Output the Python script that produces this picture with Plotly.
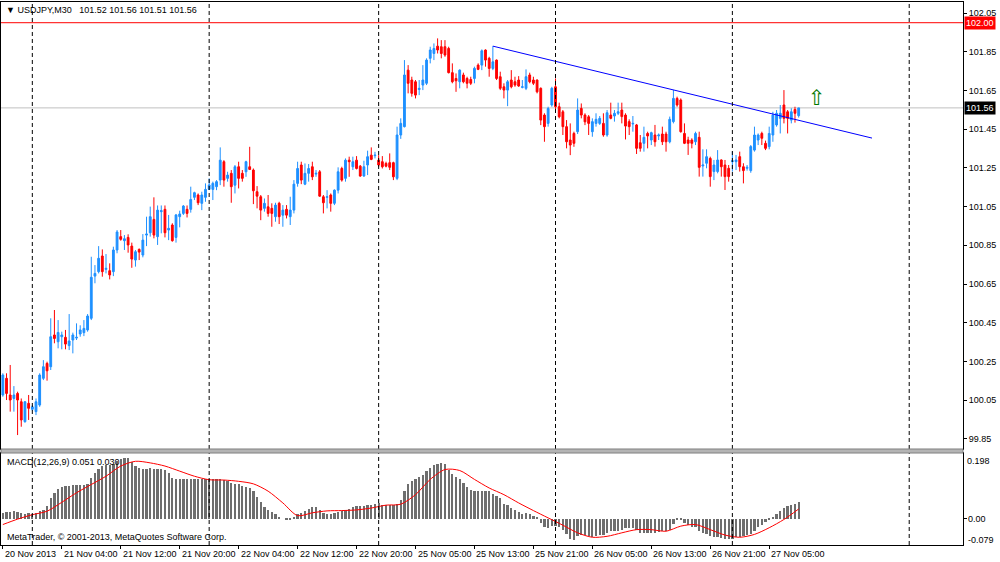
import plotly.graph_objects as go

# USDJPY M30 candles, 20 Nov 20:00 .. 27 Nov 09:00 (bar index on x)
opens = [100.077, 100.163, 100.077, 100.059, 100.085, 100.042, 99.939, 100.034, 100.003, 99.991,
         100.025, 100.163, 100.240, 100.223, 100.387, 100.352, 100.378, 100.375, 100.332, 100.361,
         100.371, 100.392, 100.399, 100.413, 100.473, 100.691, 100.714, 100.795, 100.726, 100.719,
         100.714, 100.826, 100.895, 100.874, 100.891, 100.846, 100.774, 100.829, 100.800, 100.903,
         100.915, 100.984, 100.895, 101.024, 101.036, 100.929, 100.955, 100.891, 100.998, 101.015,
         101.036, 101.036, 101.098, 101.110, 101.067, 101.098, 101.139, 101.139, 101.153, 101.187,
         101.282, 101.196, 101.222, 101.161, 101.256, 101.222, 101.230, 101.256, 101.239, 101.127,
         101.101, 101.041, 101.049, 101.041, 100.998, 101.067, 101.006, 101.036, 100.998, 101.032,
         101.170, 101.265, 101.166, 101.222, 101.256, 101.218, 101.230, 101.101, 101.098, 101.110,
         101.067, 101.135, 101.247, 101.196, 101.290, 101.256, 101.290, 101.259, 101.208, 101.265,
         101.316, 101.313, 101.290, 101.282, 101.273, 101.277, 101.277, 101.196, 101.420, 101.463,
         101.755, 101.704, 101.695, 101.655, 101.678, 101.687, 101.816, 101.841, 101.879, 101.876,
         101.876, 101.867, 101.742, 101.712, 101.695, 101.730, 101.712, 101.707, 101.712, 101.781,
         101.781, 101.859, 101.816, 101.764, 101.807, 101.721, 101.669, 101.652, 101.704, 101.695,
         101.704, 101.666, 101.661, 101.730, 101.704, 101.704, 101.661, 101.523, 101.480, 101.575,
         101.669, 101.566, 101.540, 101.463, 101.394, 101.428, 101.437, 101.557, 101.523, 101.514,
         101.437, 101.480, 101.480, 101.480, 101.420, 101.523, 101.518, 101.532, 101.549, 101.523,
         101.489, 101.477, 101.472, 101.380, 101.377, 101.428, 101.394, 101.420, 101.415, 101.425,
         101.425, 101.385, 101.489, 101.609, 101.601, 101.428, 101.394, 101.394, 101.385, 101.408,
         101.260, 101.274, 101.299, 101.231, 101.231, 101.291, 101.265, 101.248, 101.282, 101.282,
         101.308, 101.256, 101.248, 101.236, 101.342, 101.394, 101.428, 101.377, 101.360, 101.420,
         101.472, 101.506, 101.575, 101.540, 101.497, 101.552, 101.520]
highs = [100.189, 100.189, 100.232, 100.123, 100.094, 100.059, 100.046, 100.077, 100.025, 100.059,
         100.189, 100.257, 100.249, 100.473, 100.516, 100.464, 100.404, 100.413, 100.495, 100.399,
         100.447, 100.437, 100.464, 100.495, 100.791, 100.748, 100.846, 100.829, 100.805, 100.757,
         100.843, 100.929, 100.929, 100.903, 100.907, 100.864, 100.826, 100.834, 100.908, 100.998,
         101.050, 101.098, 101.056, 101.056, 101.056, 101.007, 100.964, 101.012, 101.029, 101.058,
         101.056, 101.153, 101.127, 101.118, 101.127, 101.170, 101.196, 101.179, 101.187, 101.356,
         101.290, 101.230, 101.239, 101.265, 101.282, 101.239, 101.287, 101.359, 101.247, 101.156,
         101.110, 101.092, 101.110, 101.067, 101.070, 101.075, 101.058, 101.058, 101.101, 101.187,
         101.282, 101.282, 101.273, 101.270, 101.282, 101.239, 101.239, 101.110, 101.135, 101.118,
         101.139, 101.253, 101.256, 101.299, 101.308, 101.308, 101.311, 101.265, 101.287, 101.339,
         101.356, 101.333, 101.316, 101.311, 101.282, 101.325, 101.282, 101.463, 101.506, 101.807,
         101.781, 101.721, 101.704, 101.704, 101.781, 101.816, 101.876, 101.893, 101.919, 101.910,
         101.910, 101.876, 101.790, 101.738, 101.759, 101.742, 101.721, 101.721, 101.773, 101.790,
         101.862, 101.862, 101.824, 101.879, 101.810, 101.747, 101.687, 101.704, 101.755, 101.721,
         101.724, 101.704, 101.759, 101.742, 101.721, 101.707, 101.666, 101.532, 101.566, 101.669,
         101.712, 101.587, 101.549, 101.497, 101.480, 101.437, 101.609, 101.583, 101.532, 101.523,
         101.506, 101.532, 101.518, 101.532, 101.549, 101.587, 101.549, 101.587, 101.587, 101.532,
         101.501, 101.518, 101.477, 101.420, 101.463, 101.437, 101.437, 101.472, 101.428, 101.463,
         101.437, 101.515, 101.652, 101.618, 101.609, 101.480, 101.411, 101.403, 101.437, 101.437,
         101.346, 101.346, 101.308, 101.291, 101.342, 101.294, 101.291, 101.265, 101.334, 101.317,
         101.334, 101.274, 101.265, 101.368, 101.463, 101.428, 101.437, 101.391, 101.463, 101.540,
         101.549, 101.575, 101.652, 101.549, 101.558, 101.566, 101.560]
lows = [100.068, 100.051, 99.991, 99.991, 99.870, 99.913, 99.934, 99.948, 99.996, 99.973,
        100.016, 100.154, 100.151, 100.206, 100.344, 100.318, 100.313, 100.313, 100.309, 100.292,
        100.361, 100.378, 100.381, 100.404, 100.464, 100.654, 100.705, 100.688, 100.705, 100.674,
        100.691, 100.809, 100.874, 100.826, 100.812, 100.734, 100.740, 100.774, 100.788, 100.846,
        100.895, 100.886, 100.852, 100.912, 100.891, 100.877, 100.869, 100.864, 100.943, 101.007,
        100.994, 101.019, 101.084, 101.058, 101.032, 101.075, 101.136, 101.084, 101.135, 101.161,
        101.153, 101.179, 101.070, 101.118, 101.144, 101.179, 101.204, 101.239, 101.063, 101.041,
        100.980, 101.024, 100.998, 100.946, 100.972, 100.960, 100.946, 100.989, 100.955, 101.015,
        101.153, 101.166, 101.161, 101.179, 101.187, 101.204, 101.101, 101.015, 101.041, 101.024,
        101.058, 101.118, 101.179, 101.179, 101.204, 101.239, 101.242, 101.204, 101.204, 101.213,
        101.290, 101.299, 101.256, 101.247, 101.253, 101.239, 101.187, 101.187, 101.400, 101.459,
        101.635, 101.618, 101.609, 101.626, 101.652, 101.678, 101.790, 101.807, 101.841, 101.816,
        101.824, 101.738, 101.687, 101.643, 101.661, 101.687, 101.661, 101.678, 101.687, 101.755,
        101.755, 101.773, 101.721, 101.755, 101.704, 101.652, 101.609, 101.569, 101.661, 101.669,
        101.669, 101.661, 101.652, 101.687, 101.678, 101.635, 101.471, 101.385, 101.463, 101.566,
        101.549, 101.506, 101.420, 101.351, 101.316, 101.359, 101.425, 101.506, 101.471, 101.420,
        101.411, 101.463, 101.472, 101.411, 101.411, 101.501, 101.489, 101.523, 101.480, 101.397,
        101.420, 101.437, 101.322, 101.334, 101.334, 101.351, 101.368, 101.360, 101.394, 101.368,
        101.334, 101.377, 101.480, 101.566, 101.432, 101.373, 101.317, 101.351, 101.368, 101.205,
        101.205, 101.248, 101.153, 101.187, 101.222, 101.205, 101.136, 101.179, 101.231, 101.239,
        101.231, 101.170, 101.236, 101.225, 101.334, 101.368, 101.368, 101.342, 101.346, 101.385,
        101.463, 101.428, 101.480, 101.428, 101.480, 101.484, 101.510]
closes = [100.180, 100.085, 100.051, 100.077, 100.051, 99.948, 100.042, 100.008, 100.016, 100.042,
          100.180, 100.223, 100.202, 100.378, 100.369, 100.400, 100.387, 100.340, 100.356, 100.387,
          100.375, 100.413, 100.421, 100.485, 100.685, 100.705, 100.783, 100.714, 100.731, 100.697,
          100.826, 100.919, 100.881, 100.884, 100.852, 100.779, 100.817, 100.815, 100.877, 100.908,
          100.998, 100.903, 101.032, 101.029, 100.915, 100.938, 100.874, 101.007, 101.012, 101.053,
          101.015, 101.087, 101.122, 101.070, 101.110, 101.139, 101.162, 101.170, 101.179, 101.290,
          101.187, 101.213, 101.153, 101.256, 101.196, 101.196, 101.282, 101.242, 101.132, 101.104,
          101.032, 101.067, 101.015, 101.015, 101.058, 100.998, 101.032, 101.006, 101.032, 101.166,
          101.247, 101.187, 101.222, 101.247, 101.204, 101.222, 101.104, 101.070, 101.101, 101.067,
          101.135, 101.230, 101.187, 101.290, 101.282, 101.282, 101.247, 101.208, 101.256, 101.308,
          101.294, 101.316, 101.265, 101.256, 101.259, 101.253, 101.204, 101.420, 101.480, 101.730,
          101.687, 101.635, 101.626, 101.661, 101.704, 101.807, 101.859, 101.867, 101.859, 101.841,
          101.833, 101.742, 101.695, 101.700, 101.755, 101.695, 101.687, 101.687, 101.764, 101.759,
          101.855, 101.807, 101.764, 101.798, 101.712, 101.661, 101.652, 101.695, 101.669, 101.678,
          101.673, 101.669, 101.721, 101.695, 101.687, 101.643, 101.497, 101.463, 101.557, 101.661,
          101.566, 101.514, 101.463, 101.385, 101.368, 101.377, 101.549, 101.523, 101.488, 101.480,
          101.489, 101.501, 101.506, 101.420, 101.535, 101.506, 101.532, 101.540, 101.515, 101.466,
          101.463, 101.480, 101.351, 101.351, 101.408, 101.415, 101.432, 101.385, 101.420, 101.385,
          101.385, 101.501, 101.609, 101.575, 101.437, 101.377, 101.377, 101.377, 101.428, 101.253,
          101.265, 101.308, 101.205, 101.265, 101.291, 101.256, 101.205, 101.205, 101.287, 101.291,
          101.256, 101.236, 101.253, 101.360, 101.420, 101.420, 101.403, 101.351, 101.428, 101.523,
          101.532, 101.532, 101.506, 101.506, 101.540, 101.532, 101.560]
bars = list(range(len(closes)))

# MACD(12,26,9): main line as histogram, signal line read every 4 bars
macd_hist = [0.017, 0.020, 0.022, 0.023, 0.022, 0.017, 0.015, 0.016, 0.015, 0.017,
             0.023, 0.028, 0.039, 0.063, 0.081, 0.092, 0.099, 0.101, 0.103, 0.104,
             0.104, 0.105, 0.105, 0.107, 0.128, 0.143, 0.155, 0.164, 0.168, 0.169,
             0.172, 0.180, 0.188, 0.191, 0.190, 0.178, 0.165, 0.158, 0.157, 0.155,
             0.158, 0.155, 0.157, 0.155, 0.151, 0.143, 0.126, 0.125, 0.125, 0.125,
             0.124, 0.124, 0.124, 0.123, 0.123, 0.123, 0.123, 0.123, 0.123, 0.123,
             0.122, 0.118, 0.112, 0.109, 0.107, 0.102, 0.099, 0.096, 0.086, 0.067,
             0.051, 0.036, 0.028, 0.019, 0.013, 0.005, 0.000, -0.003, -0.006, 0.002,
             0.013, 0.018, 0.025, 0.031, 0.036, 0.036, 0.027, 0.018, 0.015, 0.015,
             0.018, 0.021, 0.024, 0.027, 0.031, 0.036, 0.039, 0.039, 0.039, 0.042,
             0.044, 0.047, 0.049, 0.044, 0.042, 0.042, 0.042, 0.046, 0.057,
             0.088, 0.107, 0.117, 0.123, 0.130, 0.138, 0.149, 0.159, 0.168, 0.172, 0.173,
             0.170, 0.154, 0.140, 0.130, 0.123, 0.112, 0.099, 0.091, 0.088, 0.086,
             0.086, 0.088, 0.086, 0.078, 0.070, 0.063, 0.046, 0.042, 0.034, 0.028,
             0.020, 0.015, 0.018, 0.015, 0.009, 0.004, -0.014, -0.027, -0.029, -0.024,
             -0.024, -0.027, -0.035, -0.048, -0.063, -0.069, -0.056, -0.052, -0.052, -0.056,
             -0.059, -0.056, -0.052, -0.052, -0.045, -0.040, -0.040, -0.038, -0.035, -0.031,
             -0.029, -0.029, -0.035, -0.045, -0.045, -0.045, -0.045, -0.045, -0.042, -0.040,
             -0.040, -0.035, -0.017, -0.006, -0.006, -0.014, -0.021, -0.027, -0.027, -0.038,
             -0.045, -0.048, -0.056, -0.059, -0.059, -0.061, -0.063, -0.066, -0.063, -0.059,
             -0.059, -0.056, -0.052, -0.048, -0.038, -0.027, -0.019, -0.010, -0.003, 0.002,
             0.013, 0.023, 0.034, 0.039, 0.042, 0.046, 0.051]
signal_x = [0, 4, 8, 12, 16, 20, 24, 28, 32, 36, 40, 44, 48, 52, 56, 60, 64, 68, 72, 76,
            80, 84, 88, 92, 96, 100, 104, 108, 112, 116, 120, 124, 128, 132, 136, 140, 144, 148, 152, 156,
            160, 164, 168, 172, 176, 180, 184, 188, 192, 196, 200, 204, 208, 212, 216]
signal_y = [-0.019, -0.002, 0.012, 0.023, 0.051, 0.081, 0.107, 0.133, 0.165, 0.180,
            0.175, 0.165, 0.149, 0.133, 0.122, 0.121, 0.117, 0.109, 0.086, 0.049,
            0.009, 0.018, 0.024, 0.025, 0.027, 0.033, 0.042, 0.045, 0.075, 0.123,
            0.154, 0.151, 0.123, 0.096, 0.075, 0.049, 0.025, 0.002, -0.021, -0.045,
            -0.059, -0.056, -0.045, -0.035, -0.035, -0.040, -0.024, -0.019, -0.035, -0.052,
            -0.059, -0.050, -0.029, -0.003, 0.030]

# time axis labels (every 16 bars) and day separators
time_ticks = [0, 16, 32, 48, 64, 80, 96, 112, 128, 144, 160, 176, 192, 208]
time_labels = ["20 Nov 2013", "21 Nov 04:00", "21 Nov 12:00", "21 Nov 20:00", "22 Nov 04:00",
               "22 Nov 12:00", "22 Nov 20:00", "25 Nov 05:00", "25 Nov 13:00", "25 Nov 21:00",
               "26 Nov 05:00", "26 Nov 13:00", "26 Nov 21:00", "27 Nov 05:00"]
day_breaks = [8, 56, 102, 150, 198, 246]

price_ticks = [102.05, 101.85, 101.65, 101.45, 101.25, 101.05, 100.85, 100.65, 100.45, 100.25, 100.05, 99.85]
alert_level = 102.00
bid_price = 101.56

trend_x = [133, 235.9]
trend_y = [101.879, 101.404]
arrow_x = [221.1]
arrow_y = [101.611]

FONT = "Liberation Sans, Arial, sans-serif"

fig = go.Figure()

fig.add_trace(go.Candlestick(
    x=bars, open=opens, high=highs, low=lows, close=closes,
    increasing=dict(line=dict(color="#1E90FF", width=1), fillcolor="#1E90FF"),
    decreasing=dict(line=dict(color="#FF0000", width=1), fillcolor="#FF0000"),
    whiskerwidth=0, xaxis="x", yaxis="y", showlegend=False, hoverinfo="skip"))

fig.add_trace(go.Scatter(x=trend_x, y=trend_y, mode="lines",
                         line=dict(color="#0000FF", width=1), xaxis="x", yaxis="y",
                         showlegend=False, hoverinfo="skip"))

fig.add_trace(go.Bar(x=bars, y=macd_hist, width=0.62, marker=dict(color="#6e6e6e", line=dict(width=0)),
                     xaxis="x2", yaxis="y2", showlegend=False, hoverinfo="skip"))

fig.add_trace(go.Scatter(x=signal_x, y=signal_y, mode="lines", line=dict(color="#FF0000", width=1, shape="spline", smoothing=0.8),
                         xaxis="x2", yaxis="y2", showlegend=False, hoverinfo="skip"))

xrange = [-0.5, 260.6]

shapes = []
for d in day_breaks:
    shapes.append(dict(type="line", xref="x", yref="y domain", x0=d, x1=d, y0=0, y1=1,
                       line=dict(color="black", width=1, dash="4px,3px")))
    shapes.append(dict(type="line", xref="x2", yref="y2 domain", x0=d, x1=d, y0=0, y1=1,
                       line=dict(color="black", width=1, dash="4px,3px")))
shapes.append(dict(type="line", xref="paper", yref="y", x0=0, x1=1, y0=bid_price, y1=bid_price,
                   line=dict(color="#c0c0c0", width=1), layer="below"))
shapes.append(dict(type="line", xref="paper", yref="y", x0=0, x1=1, y0=alert_level, y1=alert_level,
                   line=dict(color="#FF0000", width=1)))
# separator between the two windows
shapes.append(dict(type="rect", xref="paper", yref="paper", x0=0, x1=1, y0=0.1694, y1=0.1768,
                   fillcolor="#b4b4b4", line=dict(color="#808080", width=1)))

annotations = [
    dict(text="\u25bc USDJPY,M30\u00a0\u00a0\u00a0101.52 101.56 101.51 101.56", xref="paper", yref="paper",
         x=0, y=1, xanchor="left", yanchor="top", xshift=3, yshift=-1, showarrow=False,
         font=dict(family=FONT, size=9, color="black")),
    dict(text="MACD(12,26,9) 0.051 0.030", xref="paper", yref="y2 domain", x=0, y=1,
         xanchor="left", yanchor="top", xshift=4, yshift=-2, showarrow=False,
         font=dict(family=FONT, size=9, color="black")),
    dict(text="MetaTrader, \u00a9 2001-2013, MetaQuotes Software Corp.", xref="paper", yref="y2 domain",
         x=0, y=0, xanchor="left", yanchor="bottom", xshift=4, yshift=1, showarrow=False,
         font=dict(family=FONT, size=9, color="black")),
    dict(text="102.00", xref="paper", yref="y", x=1, y=alert_level, xanchor="left", yanchor="middle",
         xshift=1, showarrow=False, bgcolor="#FF0000", borderpad=1,
         font=dict(family=FONT, size=9, color="white")),
    dict(text="101.56", xref="paper", yref="y", x=1, y=bid_price, xanchor="left", yanchor="middle",
         xshift=1, showarrow=False, bgcolor="black", borderpad=1,
         font=dict(family=FONT, size=9, color="white")),
    dict(text="0.198", xref="paper", yref="y2", x=1, y=0.198, xanchor="left", yanchor="top",
         xshift=2, yshift=2, showarrow=False, font=dict(family=FONT, size=9, color="black")),
    dict(text="0.00", xref="paper", yref="y2", x=1, y=0, xanchor="left", yanchor="middle",
         xshift=3, showarrow=False, font=dict(family=FONT, size=9, color="black")),
    dict(text="-0.079", xref="paper", yref="y2", x=1, y=-0.079, xanchor="left", yanchor="middle",
         xshift=3, yshift=4, showarrow=False, font=dict(family=FONT, size=9, color="black")),
    dict(text="\u21e7", x=arrow_x[0], y=arrow_y[0], xref="x", yref="y", showarrow=False,
         font=dict(family="DejaVu Sans", size=21, color="#007800")),
]
for t, lab in zip(time_ticks, time_labels):
    annotations.append(dict(text=lab, xref="x2", yref="paper", x=t, y=0, xanchor="left", yanchor="top",
                            yshift=-2, showarrow=False, font=dict(family=FONT, size=9, color="black")))

fig.update_layout(
    width=1000, height=562,
    margin=dict(l=1, r=37, t=2, b=17),
    paper_bgcolor="white", plot_bgcolor="white",
    font=dict(family=FONT, size=9, color="black"),
    bargap=0,
    shapes=shapes, annotations=annotations,
    xaxis=dict(domain=[0, 1], anchor="y", range=xrange, showgrid=False, zeroline=False,
               showline=True, mirror=True, linecolor="black", linewidth=1,
               showticklabels=False, ticks="", rangeslider=dict(visible=False)),
    yaxis=dict(domain=[0.1768, 1], anchor="x", side="right", range=[99.798, 102.107],
               tickvals=price_ticks, ticktext=["%.2f" % p for p in price_ticks],
               ticks="outside", ticklen=3, tickcolor="black", showgrid=False, zeroline=False,
               showline=True, mirror=True, linecolor="black", linewidth=1),
    xaxis2=dict(domain=[0, 1], anchor="y2", range=xrange, showgrid=False, zeroline=False,
                showline=True, mirror=True, linecolor="black", linewidth=1,
                tickvals=time_ticks, showticklabels=False, ticks="outside", ticklen=3, tickcolor="black"),
    yaxis2=dict(domain=[0, 0.1694], anchor="x2", side="right", range=[-0.0833, 0.206],
                tickvals=[0], showticklabels=False, ticks="outside", ticklen=3, tickcolor="black",
                showgrid=False, zeroline=False,
                showline=True, mirror=True, linecolor="black", linewidth=1),
)

# the page body has a default margin; remove it so the chart sits at the window corner
fig.write_html("out.html", config={"displayModeBar": False},
               post_script="document.body.style.margin='0';")
